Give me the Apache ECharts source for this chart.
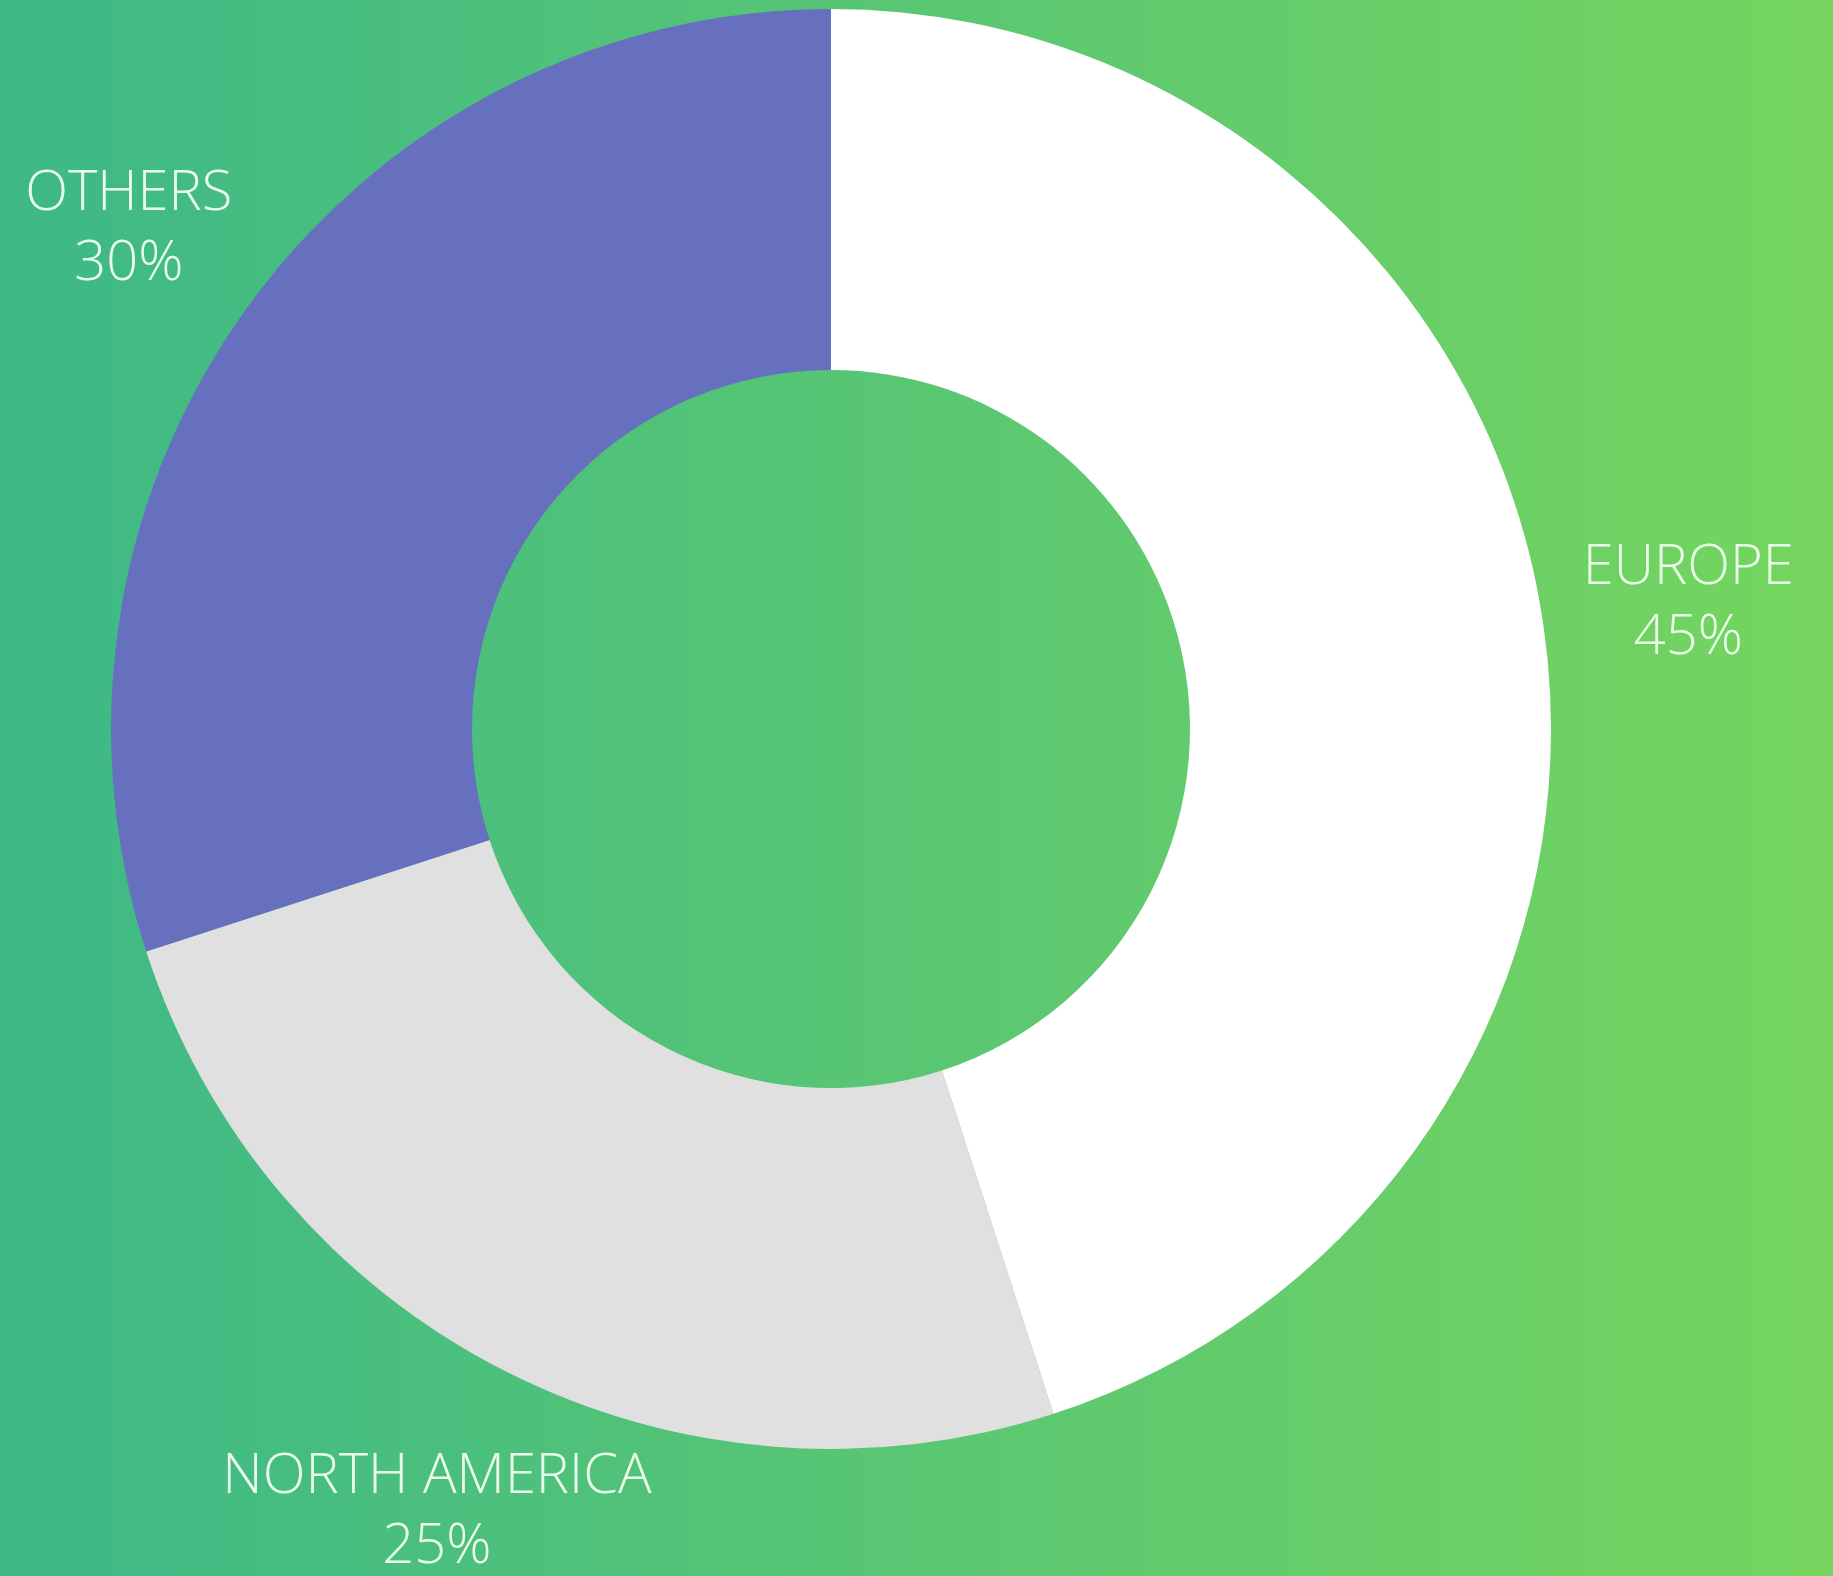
<!DOCTYPE html>
<html>
<head>
<meta charset="utf-8">
<script src="https://cdn.jsdelivr.net/npm/echarts@6/dist/echarts.min.js"></script>
<style>
html,body{margin:0;padding:0;}
#chart{width:1833px;height:1576px;}
</style>
</head>
<body>
<div id="chart"></div>
<script>
const categories = ['EUROPE', 'NORTH AMERICA', 'OTHERS'];
const values = [45, 25, 30];
const colors = ['#ffffff', '#e0e0e0', '#6670be'];

const data = categories.map((c, i) => ({ name: c, value: values[i], itemStyle: { color: colors[i] } }));
const labelData = categories.map((c, i) => ({ name: c, value: values[i] }));

const chart = echarts.init(document.getElementById('chart'));
chart.setOption({
  animation: false,
  backgroundColor: new echarts.graphic.LinearGradient(0, 0, 1, 0, [
    { offset: 0, color: '#3db887' },
    { offset: 1, color: '#75d55e' }
  ]),
  series: [
    {
      type: 'pie',
      center: [831, 729],
      radius: [359, 720],
      startAngle: 90,
      clockwise: true,
      silent: true,
      label: { show: false },
      labelLine: { show: false },
      data: data
    },
    {
      type: 'pie',
      center: [831, 739],
      radius: [815, 915],
      startAngle: 90,
      clockwise: true,
      silent: true,
      itemStyle: { color: 'rgba(0,0,0,0)' },
      label: {
        show: true,
        position: 'inside',
        rotate: 0,
        formatter: '{b}\n{d}%',
        color: '#e9fde9',
        fontFamily: 'Open Sans',
        fontWeight: 300,
        fontSize: 56,
        lineHeight: 70,
        align: 'center'
      },
      labelLine: { show: false },
      data: labelData
    }
  ]
});
</script>
</body>
</html>
